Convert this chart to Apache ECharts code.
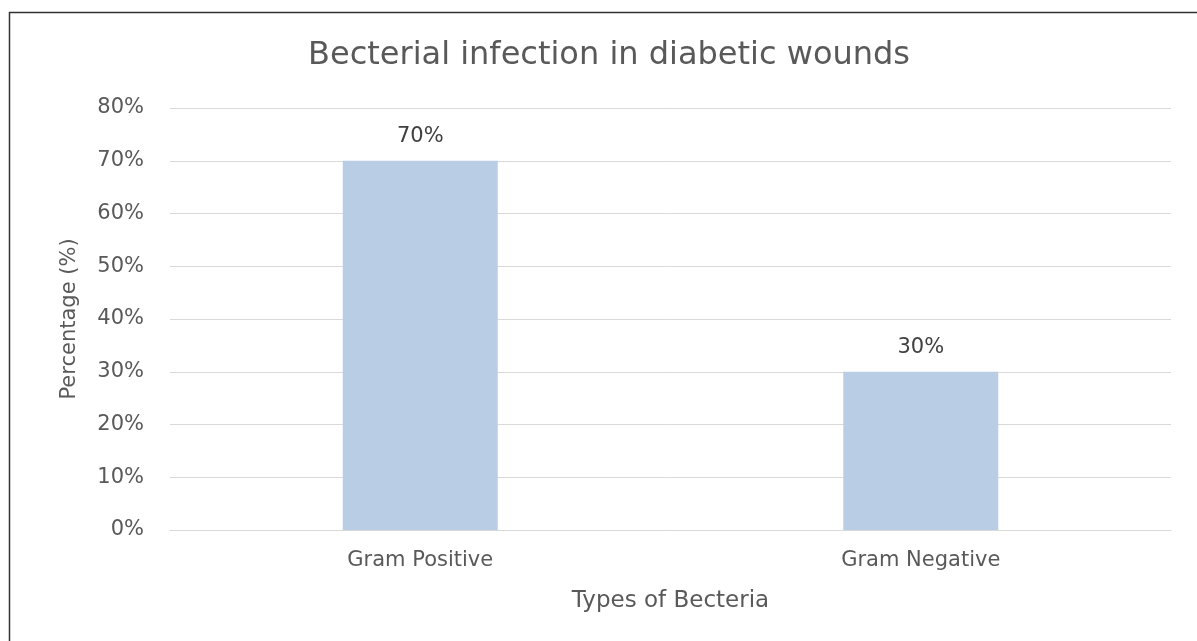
<!DOCTYPE html>
<html><head><meta charset="utf-8">
<script src="https://cdn.jsdelivr.net/npm/echarts@6/dist/echarts.min.js"></script>
<style>html,body{margin:0;padding:0;background:#fff;}#c{width:1197px;height:641px;}</style>
</head><body><div id="c"></div>
<script>
const categories = ['Gram Positive', 'Gram Negative'];
const values = [70, 30];
const yTicks = [0, 10, 20, 30, 40, 50, 60, 70, 80];

const chart = echarts.init(document.getElementById('c'));
const font = '"DejaVu Sans", sans-serif';
chart.setOption({
  backgroundColor: '#fff',
  animation: false,
  graphic: [{
    type: 'rect', left: 7, top: 10,
    shape: { width: 1300, height: 700 },
    style: { fill: 'none', stroke: '#333', lineWidth: 1.5 }
  }],
  title: {
    text: 'Becterial infection in diabetic wounds',
    left: 303, top: 35,
    textStyle: { fontFamily: font, fontSize: 32, fontWeight: 'normal', color: '#595959' }
  },
  grid: { left: 170, right: 26, top: 108, bottom: 111 },
  xAxis: {
    type: 'category', data: categories,
    name: 'Types of Becteria', nameLocation: 'middle', nameGap: 60,
    nameTextStyle: { fontFamily: font, fontSize: 23, color: '#595959' },
    axisLine: { lineStyle: { color: '#d9d9d9' } },
    axisTick: { show: false },
    axisLabel: { fontFamily: font, fontSize: 21, color: '#595959', margin: 20 }
  },
  yAxis: {
    type: 'value', min: 0, max: 80, interval: 10,
    name: 'Percentage (%)', nameLocation: 'middle', nameGap: 90,
    nameTextStyle: { fontFamily: font, fontSize: 21, color: '#595959' },
    axisLine: { show: false }, axisTick: { show: false },
    splitLine: { lineStyle: { color: '#d9d9d9' } },
    axisLabel: { fontFamily: font, fontSize: 21, color: '#595959', margin: 26,
      formatter: v => yTicks.includes(v) ? v + '%' : '' }
  },
  series: [{
    type: 'bar', data: values, barWidth: 155,
    itemStyle: { color: '#b9cde4' },
    label: { show: true, position: 'top', distance: 14, formatter: p => p.value + '%',
      fontFamily: font, fontSize: 21, color: '#404040' }
  }]
});
</script></body></html>
